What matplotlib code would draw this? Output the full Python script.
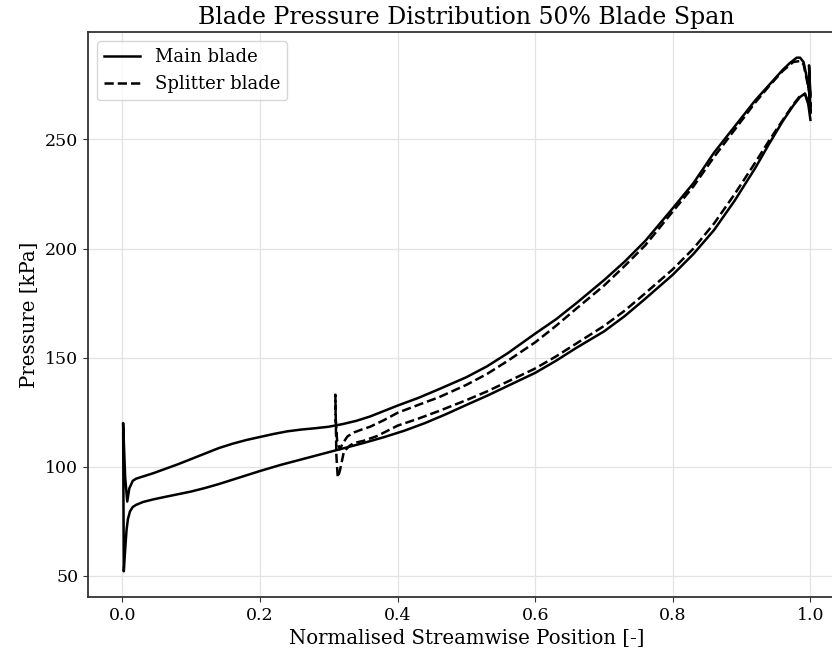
import numpy as np
import matplotlib
matplotlib.use('Agg')
import matplotlib.pyplot as plt

plt.rcParams['font.family'] = 'serif'
plt.rcParams['font.serif'] = ['DejaVu Serif']

# main blade, lower side (LE -> TE)
main_lo_x = [0.002, 0.004, 0.006, 0.008, 0.011, 0.015, 0.02, 0.03, 0.045, 0.06, 0.08, 0.10,
             0.12, 0.14, 0.16, 0.18, 0.20, 0.23, 0.26, 0.29, 0.32, 0.35, 0.38, 0.41, 0.44,
             0.47, 0.50, 0.53, 0.56, 0.60, 0.63, 0.66, 0.70, 0.73, 0.76, 0.80, 0.83, 0.86,
             0.89, 0.92, 0.94, 0.96, 0.975, 0.985, 0.992, 0.997, 1.0]
main_lo_p = [52, 62, 71, 76, 79.5, 81.5, 82.5, 83.8, 85, 86, 87.3, 88.6,
             90.2, 92, 94, 96, 98, 100.8, 103.3, 105.8, 108.3, 110.8, 113.5, 116.5, 120,
             124, 128.3, 132.5, 137, 143, 148.5, 154.5, 162, 169, 177, 188, 197.5, 208.5,
             222, 237, 248, 258.5, 265.5, 269.5, 271, 266, 259]
# main blade, upper side (LE -> TE)
main_up_x = [0.001, 0.004, 0.007, 0.010, 0.015, 0.02, 0.03, 0.045, 0.065, 0.08, 0.10, 0.12,
             0.14, 0.16, 0.18, 0.20, 0.22, 0.24, 0.26, 0.28, 0.30, 0.32, 0.34, 0.36, 0.38,
             0.40, 0.43, 0.46, 0.50, 0.53, 0.56, 0.60, 0.63, 0.66, 0.70, 0.73, 0.76, 0.80,
             0.83, 0.86, 0.89, 0.92, 0.94, 0.96, 0.97, 0.98, 0.985, 0.99, 0.995, 1.0,
             0.998, 1.0, 0.997, 0.999]
main_up_p = [120, 95, 84, 90, 93.5, 94.5, 95.5, 97, 99.3, 101, 103.5, 106,
             108.5, 110.5, 112.2, 113.6, 115, 116.2, 117, 117.6, 118.3, 119.5, 121, 123, 125.5,
             128, 131.5, 135.5, 141, 146, 152, 161, 167.5, 175, 185.5, 194, 203.5, 218.5,
             230, 244, 256, 268, 275, 282, 285, 287.5, 287.5, 285.5, 278, 270,
             284, 262, 278, 271]

# splitter blade, lower side (LE -> TE)
split_lo_x = [0.3095, 0.311, 0.313, 0.316, 0.322, 0.33, 0.336, 0.35, 0.37, 0.40, 0.43, 0.46,
              0.50, 0.53, 0.56, 0.60, 0.63, 0.66, 0.70, 0.73, 0.76, 0.80, 0.83, 0.86, 0.89,
              0.92, 0.94, 0.96, 0.975, 0.985, 0.992, 0.997, 1.0]
split_lo_p = [133, 105, 95, 98, 107, 109.5, 110.8, 111.8, 114, 118.8, 122, 125.5,
              130.5, 134.5, 139, 145, 150.5, 156.5, 164.5, 171.5, 179.5, 190.5, 200, 211.5, 225,
              239.5, 249.5, 259, 266, 270, 271, 267, 262]
# splitter blade, upper side (LE -> TE)
split_up_x = [0.31, 0.312, 0.316, 0.321, 0.327, 0.335, 0.346, 0.36, 0.38, 0.40, 0.43, 0.46,
              0.50, 0.53, 0.56, 0.60, 0.63, 0.66, 0.70, 0.73, 0.76, 0.80, 0.83, 0.86, 0.89,
              0.92, 0.94, 0.96, 0.975, 0.985, 0.99, 0.995, 1.0, 0.998, 1.0, 0.998]
split_up_p = [122, 112, 108, 111, 113.8, 115.5, 116.8, 118.3, 121.3, 124.7, 128.3, 131.8,
              137.5, 142.5, 148.5, 157, 164.5, 172.5, 183, 192, 201.5, 217, 228.5, 242, 254.5,
              267, 274.5, 281.5, 285.5, 286, 284.5, 277, 269, 281, 265, 274]

main_x = main_lo_x[::-1] + main_up_x
main_p = main_lo_p[::-1] + main_up_p
split_x = split_lo_x[::-1] + split_up_x
split_p = split_lo_p[::-1] + split_up_p

fig = plt.figure(figsize=(8.32, 6.57), dpi=100)
ax = fig.add_axes([0.1058, 0.0913, 0.9096, 0.86])

ax.plot(main_x, main_p, '-', color='black', lw=1.8, label='Main blade')
ax.plot(split_x, split_p, '--', color='black', lw=1.8, label='Splitter blade')

ax.set_xlim(-0.05, 1.05)
ax.grid(True, color='#e3e3e3', lw=0.9)
ax.set_axisbelow(True)
for s in ax.spines.values():
    s.set_linewidth(1.3)
    s.set_color('#333333')
ax.tick_params(labelsize=12.5, color='#333333')
ax.set_xlabel('Normalised Streamwise Position [-]', fontsize=14.2)
ax.set_ylabel('Pressure [kPa]', fontsize=14.2)
ax.set_title('Blade Pressure Distribution 50% Blade Span', fontsize=17)
ax.legend(loc='upper left', fontsize=13)

fig.savefig('out.png', dpi=100)
